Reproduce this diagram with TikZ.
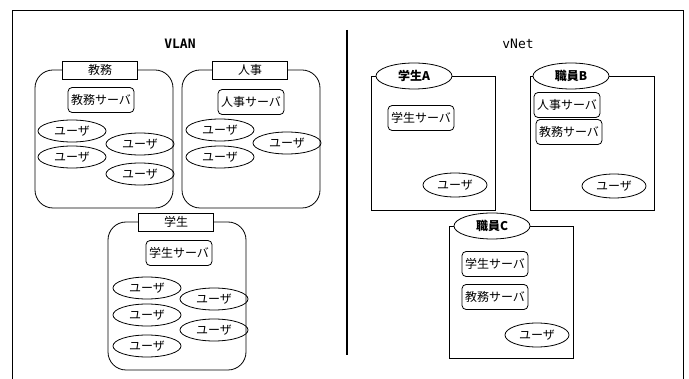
\documentclass[tikz,border=0pt]{standalone}
\usepackage{fontspec}
\setmainfont{Noto Sans CJK JP}
\newfontfamily\titlefont{DejaVu Sans Mono}
\usetikzlibrary{shapes.geometric,positioning}

\begin{document}
\begin{tikzpicture}[x=1pt,y=-1pt,line width=0.8pt,
	font=\fontsize{12}{14}\selectfont,
	group/.style={draw,rounded corners=18pt,minimum width=138pt,minimum height=138pt},
	tag/.style={draw,fill=white,minimum width=75pt,minimum height=18pt,inner sep=0pt},
	server/.style={draw,rounded corners=4pt,minimum height=25pt,inner sep=3pt},
	user/.style={draw,ellipse,minimum width=68pt,minimum height=22pt,inner sep=0pt},
	net/.style={draw,minimum width=124pt,minimum height=134pt},
	owner/.style={draw,ellipse,fill=white,minimum width=76pt,minimum height=26pt,inner sep=0pt,font=\fontsize{12}{14}\selectfont\bfseries}]
			\useasboundingbox (0,0) rectangle (689,379);
			\draw (12,379) -- (12,10) -- (683,10) -- (683,379);
			\draw[line width=1.6pt] (347,30) -- (347,355);
			\node[font=\fontsize{13}{15}\selectfont\titlefont\bfseries] (vlan) at (180,44) {VLAN};
			\node[font=\fontsize{13}{15}\selectfont\titlefont] (vnet) at (518,44) {vNet};
			% VLAN
			\node[group] (kyomu) at (104,139) {};
			\node[tag] (kyomuTag) at (100,70) {教務};
			\node[server] (kyomuSrv) at (101,100) {教務サーバ};
			\node[user] (kyomuU1) at (72,131) {ユーザ};
			\node[user] (kyomuU2) at (72,157) {ユーザ};
			\node[user] (kyomuU3) at (140,144) {ユーザ};
			\node[user] (kyomuU4) at (140,174) {ユーザ};
			\node[group] (jinji) at (251,139) {};
			\node[tag] (jinjiTag) at (250,70) {人事};
			\node[server] (jinjiSrv) at (251,102) {人事サーバ};
			\node[user] (jinjiU1) at (220,130) {ユーザ};
			\node[user] (jinjiU2) at (220,157) {ユーザ};
			\node[user] (jinjiU3) at (287,143) {ユーザ};
			\node[group,minimum height=148pt] (gakusei) at (177,296) {};
			\node[tag] (gakuseiTag) at (176,222) {学生};
			\node[server] (gakuseiSrv) at (179,253) {学生サーバ};
			\node[user] (gakuseiU1) at (147,288) {ユーザ};
			\node[user] (gakuseiU2) at (147,315) {ユーザ};
			\node[user] (gakuseiU3) at (147,346) {ユーザ};
			\node[user] (gakuseiU4) at (214,299) {ユーザ};
			\node[user] (gakuseiU5) at (214,330) {ユーザ};
			% vNet
			\node[net] (netA) at (433,143) {};
			\node[owner] (ownerA) at (414,76) {学生A};
			\node[server] (netASrv) at (421,118) {学生サーバ};
			\node[user,minimum width=64pt,minimum height=24pt] (netAU) at (455,185) {ユーザ};
			\node[net] (netB) at (592,143) {};
			\node[owner] (ownerB) at (571,76) {職員B};
			\node[server] (netBSrv1) at (567,105) {人事サーバ};
			\node[server] (netBSrv2) at (569,132) {教務サーバ};
			\node[user,minimum width=64pt,minimum height=24pt] (netBU) at (614,186) {ユーザ};
			\node[net,minimum height=132pt] (netC) at (511,292) {};
			\node[owner] (ownerC) at (492,226) {職員C};
			\node[server] (netCSrv1) at (495,264) {学生サーバ};
			\node[server] (netCSrv2) at (495,297) {教務サーバ};
			\node[user,minimum width=64pt,minimum height=24pt] (netCU) at (537,335) {ユーザ};
\end{tikzpicture}
\end{document}
